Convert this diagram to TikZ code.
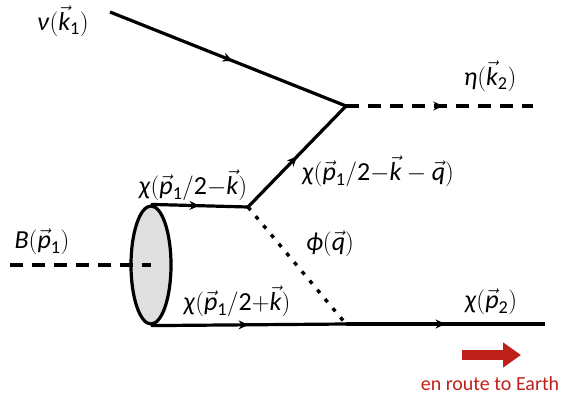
\documentclass[tikz,border=0pt]{standalone}
\usepackage{amsmath}
\usepackage{fontspec}
\setmainfont{Carlito}
\usepackage{tikz}
\usetikzlibrary{arrows.meta,decorations.markings,shapes.geometric}
\definecolor{routered}{HTML}{C0201A}
\newcommand{\mom}[1]{\vec{\textit{#1}}}
\newcommand{\sub}[1]{_{\text{#1}}}

\begin{document}
\begin{tikzpicture}[x=1pt,y=-1pt,line width=3.2pt,
    lbl/.style={font=\fontsize{26}{30}\selectfont,inner sep=0pt},
    midarrow/.style={postaction={decorate},decoration={markings,
      mark=at position #1 with {\arrow[solid,line width=1pt]{Stealth[length=10pt,width=9pt]}}}},
    fermion/.style={midarrow=0.5},
    scalar/.style={dash pattern=on 13pt off 9pt},
    mediator/.style={line width=3.4pt,dash pattern=on 4pt off 8pt}]
  \useasboundingbox (0,0) rectangle (567,402);
  % vertices and free ends
  \coordinate (nuin) at (110,12);
  \coordinate (vtop) at (346,106);
  \coordinate (etaout) at (533,106);
  \coordinate (vmid) at (248,207);
  \coordinate (vbot) at (346,324);
  \coordinate (chiout) at (545,324);
  \coordinate (bin) at (10,265);
  \node[ellipse,draw,fill=gray!25,line width=3.2pt,minimum width=40pt,minimum height=118pt,inner sep=0pt] (blob) at (151,265) {};
  % lines
  \draw[midarrow=0.52] (nuin) -- (vtop);
  \draw[scalar,midarrow=0.52] (vtop) -- (etaout);
  \draw[fermion] (vmid) -- (vtop);
  \draw[fermion] (blob.north) -- (vmid);
  \draw[mediator] (vmid) -- (vbot);
  \draw[fermion] (blob.south) -- (vbot);
  \draw[fermion] (vbot) -- (chiout);
  \draw[scalar] (bin) -- (blob.center);
  % labels
  \node[lbl] (nulbl) at (63,21) {\textit{ν}$(\mom{k}\sub{1})$};
  \node[lbl] (etalbl) at (490,76) {\textit{η}$(\mom{k}\sub{2})$};
  \node[lbl] (chiup) at (193,185) {\textit{χ}$(\mom{p}\sub{1}/\text{2}{-}\mom{k})$};
  \node[lbl] (chiupq) at (378,171) {\textit{χ}$(\mom{p}\sub{1}/\text{2}{-}\mom{k}-\mom{q})$};
  \node[lbl] (philbl) at (330,244) {\textit{ϕ}$(\mom{q})$};
  \node[lbl] (blbl) at (42,242) {\textit{B}$(\mom{p}\sub{1})$};
  \node[lbl] (chidown) at (237,301) {\textit{χ}$(\mom{p}\sub{1}/\text{2}{+}\mom{k})$};
  \node[lbl] (chiend) at (491,302) {\textit{χ}$(\mom{p}\sub{2})$};
  % direction to Earth
  \coordinate (earthfrom) at (462,355);
  \coordinate (earthto) at (521,355);
  \draw[routered,line width=10pt,-{Triangle[length=18pt,width=24pt]}] (earthfrom) -- (earthto);
  \node[text=routered,font=\fontsize{20}{24}\selectfont,inner sep=0pt] (earthlbl) at (490,384) {en route to Earth};
\end{tikzpicture}
\end{document}
